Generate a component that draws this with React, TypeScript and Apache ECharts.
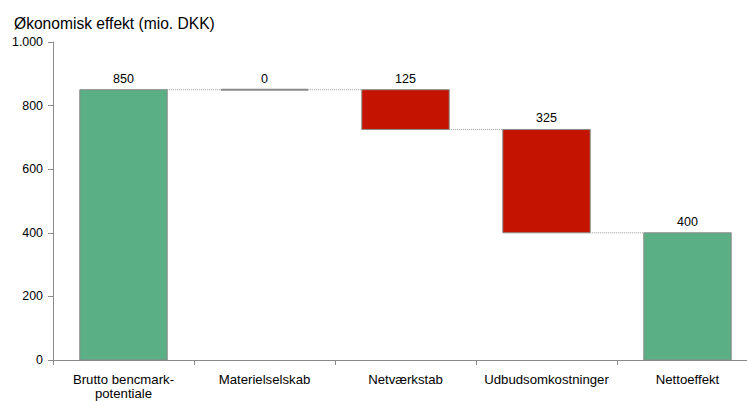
import React, { useEffect, useRef } from "react";
import * as echarts from "echarts";

const categories = [
  "Brutto bencmark-\npotentiale",
  "Materielselskab",
  "Netværkstab",
  "Udbudsomkostninger",
  "Nettoeffekt",
];
const values = [850, 0, 125, 325, 400];
const kinds = ["total", "decrease", "decrease", "decrease", "total"];
const yTicks = { min: 0, max: 1000, interval: 200 };

const GREEN = "#5BAF85";
const RED = "#C41400";
const BORDER = "#8A8A8A";
const FONT = "Liberation Sans, Arial, sans-serif";

function fmt(v: number) {
  return String(v).replace(/\B(?=(\d{3})+(?!\d))/g, ".");
}

export default function App() {
  const ref = useRef<HTMLDivElement>(null);
  useEffect(() => {
    if (!ref.current) return;
    const chart = echarts.init(ref.current, null, { renderer: "svg" });

    let running = 0;
    const rows: number[][] = [];
    values.forEach((v, i) => {
      let lo: number, hi: number;
      if (kinds[i] === "total") {
        lo = 0;
        hi = v;
        running = v;
      } else {
        hi = running;
        lo = running - v;
        running = lo;
      }
      rows.push([i, lo, hi, kinds[i] === "total" ? 1 : 0, v, running]);
    });
    const n = rows.length;

    chart.setOption({
      animation: false,
      title: {
        text: "Økonomisk effekt (mio. DKK)",
        left: 9,
        top: 10,
        textStyle: {
          fontFamily: FONT,
          fontSize: 15.6,
          fontWeight: "normal",
          color: "#000",
        },
      },
      grid: {
        left: 53,
        top: 42,
        width: 705,
        height: 318,
        containLabel: false,
        outerBoundsMode: "none",
      },
      xAxis: {
        type: "category",
        data: categories,
        axisLine: { lineStyle: { color: BORDER, width: 1 } },
        axisTick: { show: true, length: 5, interval: 0, lineStyle: { color: BORDER } },
        axisLabel: {
          interval: 0,
          margin: 12,
          color: "#000",
          fontSize: 13.2,
          lineHeight: 14.5,
          fontFamily: FONT,
        },
      },
      yAxis: {
        type: "value",
        min: yTicks.min,
        max: yTicks.max,
        interval: yTicks.interval,
        splitLine: { show: false },
        axisLine: { show: true, lineStyle: { color: BORDER, width: 1 } },
        axisTick: { show: true, length: 5, lineStyle: { color: BORDER } },
        axisLabel: {
          margin: 10,
          color: "#000",
          fontSize: 12.4,
          fontFamily: FONT,
          formatter: (v: number) => fmt(v),
        },
      },
      series: [
        {
          type: "custom",
          data: rows,
          encode: { x: 0, y: [1, 2] },
          clip: false,
          renderItem: (params: any, api: any) => {
            const i = api.value(0);
            const lo = api.value(1);
            const hi = api.value(2);
            const isTotal = api.value(3) === 1;
            const v = api.value(4);
            const run = api.value(5);
            const bw = api.size([1, 0])[0] * 0.62;
            const top = api.coord([i, hi]);
            const bot = api.coord([i, lo]);
            const children: any[] = [];
            if (hi - lo > 0) {
              children.push({
                type: "rect",
                shape: {
                  x: top[0] - bw / 2,
                  y: top[1],
                  width: bw,
                  height: bot[1] - top[1],
                },
                style: {
                  fill: isTotal ? GREEN : RED,
                  stroke: BORDER,
                  lineWidth: 1,
                },
              });
            } else {
              children.push({
                type: "line",
                shape: {
                  x1: top[0] - bw / 2,
                  y1: top[1],
                  x2: top[0] + bw / 2,
                  y2: top[1],
                },
                style: { stroke: BORDER, lineWidth: 2 },
              });
            }
            children.push({
              type: "text",
              x: top[0],
              y: top[1] - 11,
              style: {
                text: fmt(v),
                align: "center",
                verticalAlign: "middle",
                fill: "#000",
                fontSize: 12.5,
                fontFamily: FONT,
              },
            });
            if (i < n - 1) {
              const a = api.coord([i, run]);
              const b = api.coord([i + 1, run]);
              children.push({
                type: "line",
                shape: {
                  x1: a[0] + bw / 2,
                  y1: a[1],
                  x2: b[0] - bw / 2,
                  y2: b[1],
                },
                style: { stroke: "#9A9A9A", lineWidth: 1, lineDash: [1, 1] },
              });
            }
            return { type: "group", children };
          },
        },
      ],
    });
    return () => chart.dispose();
  }, []);

  return (
    <div
      style={{
        position: "fixed",
        left: 0,
        top: 0,
        width: 747,
        height: 401,
        overflow: "hidden",
        background: "#fff",
      }}
    >
      <div ref={ref} style={{ width: 747, height: 401 }} />
    </div>
  );
}
